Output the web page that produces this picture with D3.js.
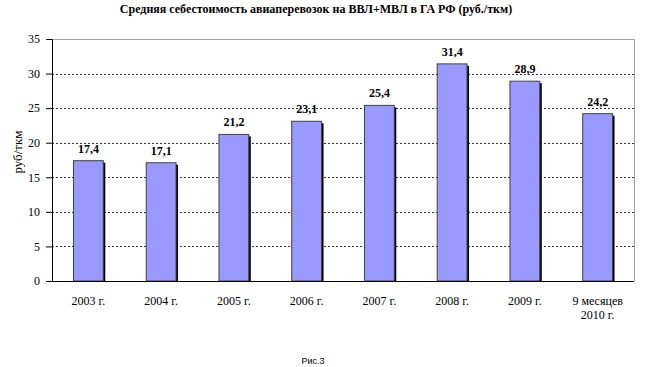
<!DOCTYPE html>
<html><head><meta charset="utf-8">
<script src="https://cdn.jsdelivr.net/npm/d3@7"></script>
<style>body{margin:0;background:#fff}svg{display:block}</style>
</head><body>
<script>
const categories = ["2003 г.","2004 г.","2005 г.","2006 г.","2007 г.","2008 г.","2009 г.","9 месяцев|2010 г."];
const values = [17.4,17.1,21.2,23.1,25.4,31.4,28.9,24.2];
const valueLabels = ["17,4","17,1","21,2","23,1","25,4","31,4","28,9","24,2"];
const yTicks = [0,5,10,15,20,25,30,35];
const title = "Средняя себестоимость авиаперевозок на ВВЛ+МВЛ в ГА РФ (руб./ткм)";
const yTitle = "руб/ткм";
const caption = "Рис.3";

const W=650,H=367;
const L=52,R=634,T=39,B=281;
const SERIF='"Liberation Serif","Times New Roman",serif';
const svg=d3.select("body").append("svg").attr("width",W).attr("height",H);
const x=d3.scaleBand().domain(categories).range([L,R]).paddingInner(0.59).paddingOuter(0.295);
const y=d3.scaleLinear().domain([0,35]).range([B,T]);

svg.append("line").attr("x1",L).attr("x2",R).attr("y1",T+0.5).attr("y2",T+0.5).attr("stroke","#a0a0a0");
svg.append("line").attr("x1",R+0.5).attr("x2",R+0.5).attr("y1",T).attr("y2",B).attr("stroke","#a0a0a0");
svg.append("g").selectAll("line").data(yTicks.filter(d=>d>0&&d<35)).join("line")
  .attr("x1",L).attr("x2",R).attr("y1",d=>Math.round(y(d))+0.5).attr("y2",d=>Math.round(y(d))+0.5)
  .attr("stroke","#000").attr("stroke-width",0.8).attr("stroke-dasharray","2,2");

const g=svg.append("g");
g.selectAll("rect.sh").data(values).join("rect").attr("class","sh")
  .attr("x",(d,i)=>x(categories[i])+2).attr("y",d=>y(d)+2)
  .attr("width",x.bandwidth()).attr("height",d=>B-y(d)-2).attr("fill","#000");
g.selectAll("rect.bar").data(values).join("rect").attr("class","bar")
  .attr("x",(d,i)=>x(categories[i])).attr("y",d=>y(d))
  .attr("width",x.bandwidth()).attr("height",d=>B-y(d))
  .attr("fill","#9999ff").attr("stroke","#404040").attr("stroke-width",1);
g.selectAll("text").data(values).join("text")
  .style("font-family",SERIF)
  .attr("x",(d,i)=>x(categories[i])+x.bandwidth()/2).attr("y",d=>y(d)-8)
  .attr("text-anchor","middle").attr("font-weight","bold").attr("font-size",12)
  .text((d,i)=>valueLabels[i]);

const ya=svg.append("g").attr("transform",`translate(${L},0)`)
  .call(d3.axisLeft(y).tickValues(yTicks).tickSize(6).tickPadding(6).tickFormat(d3.format("d")));
ya.select(".domain").attr("stroke","#000");
ya.selectAll("text").style("font-family",SERIF).attr("font-size",12).attr("fill","#000");
const xa=svg.append("g").attr("transform",`translate(0,${B})`)
  .call(d3.axisBottom(x).tickSize(0).tickPadding(0));
xa.select(".domain").attr("stroke","#000").attr("d",`M${L},0.5H${R}`);
xa.selectAll(".tick text").each(function(d){
  const parts=d.split("|");
  const t=d3.select(this).text(null).style("font-family",SERIF).attr("font-size",12).attr("fill","#000").attr("y",0).attr("dy",null);
  parts.forEach((p,i)=>t.append("tspan").attr("x",0).attr("dy",i===0?24:14).text(p));
});

svg.append("text").style("font-family",SERIF).attr("transform",`translate(22,152) rotate(-90)`)
  .attr("text-anchor","middle").attr("font-size",13).text(yTitle);
svg.append("text").style("font-family",SERIF).attr("x",316).attr("y",13).attr("text-anchor","middle")
  .attr("font-weight","bold").attr("font-size",12).text(title);
svg.append("text").attr("x",313).attr("y",364).attr("text-anchor","middle")
  .style("font-family",'"Liberation Sans Narrow","Liberation Sans",Arial,sans-serif').attr("font-size",9).text(caption);
</script>
</body></html>
